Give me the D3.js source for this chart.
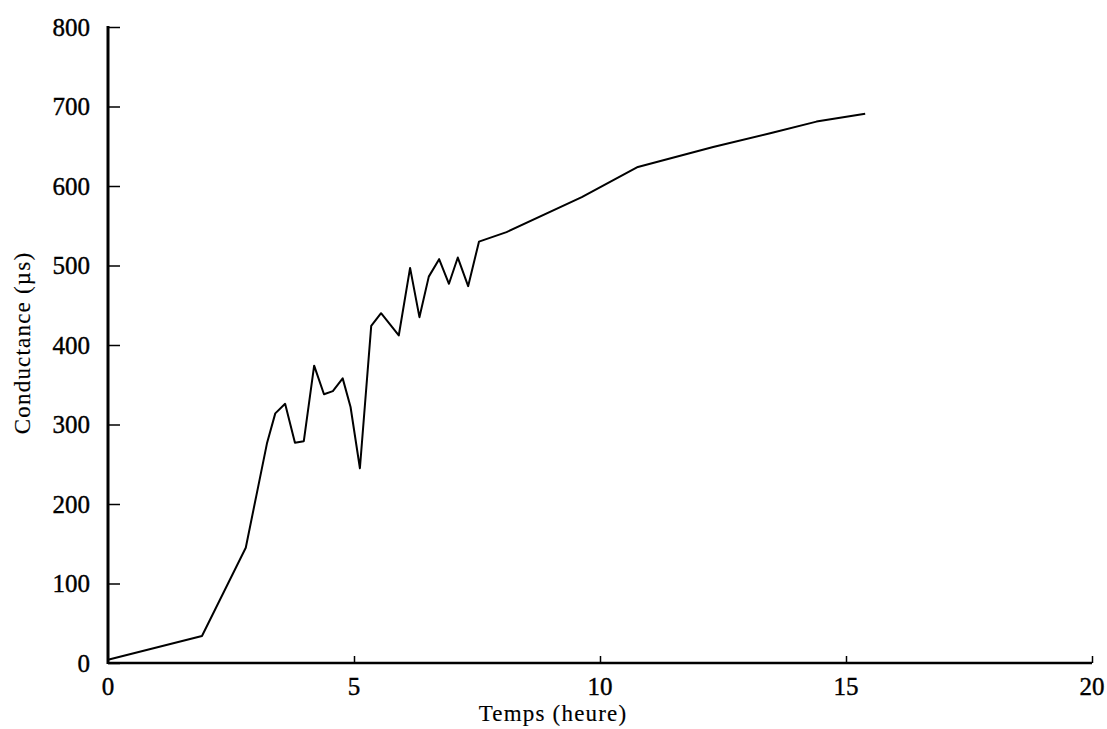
<!DOCTYPE html>
<html>
<head>
<meta charset="utf-8">
<script src="https://cdn.jsdelivr.net/npm/d3@7"></script>
<style>
  body { margin: 0; background: #fff; }
  svg { display: block; }
  text { font-family: "Liberation Serif", "DejaVu Serif", serif; fill: #000; }
  .tick-label { stroke: #000; stroke-width: 0.4px; }
  .title { stroke: #000; stroke-width: 0.15px; }
</style>
</head>
<body>
<svg id="chart" width="1107" height="729"></svg>
<script>
// values
var temps = [0, 1.91, 2.8, 3.23, 3.4, 3.6, 3.8, 3.98, 4.19, 4.39, 4.57, 4.77, 4.93, 5.12,
             5.35, 5.55, 5.91, 6.14, 6.33, 6.52, 6.73, 6.93, 7.11, 7.32, 7.54, 8.1,
             9.63, 10.77, 12.3, 13.5, 14.4, 15.39];
var conductance = [4, 34, 145, 276, 314, 326, 277, 279, 374, 338, 342, 358, 322, 245,
                   424, 440, 412, 497, 435, 486, 508, 477, 510, 474, 530, 542,
                   586, 624, 649, 667, 681, 691];
var xTicks = [0, 5, 10, 15, 20];
var yTicks = [0, 100, 200, 300, 400, 500, 600, 700, 800];

var svg = d3.select("#chart"),
    margins = {"left": 108, "right": 15, "top": 27, "bottom": 66},
    width = 1107,
    height = 729;

var x = d3.scaleLinear().domain([0, 20]).range([margins.left, width - margins.right]),
    y = d3.scaleLinear().domain([0, 800]).range([height - margins.bottom, margins.top]);

var data = temps.map((t, i) => [t, conductance[i]]);

// y axis, ticks pointing inward
var yAxis = svg.append("g").attr("transform", "translate(" + [margins.left, 0] + ")")
    .call(d3.axisRight(y).tickValues(yTicks).tickSize(12).tickFormat(""));
yAxis.select(".domain").remove();
yAxis.selectAll("line").attr("stroke", "#000").attr("stroke-width", 1.5);
svg.append("line")
    .attr("x1", margins.left).attr("x2", margins.left)
    .attr("y1", y(800) - 1).attr("y2", y(0) + 1)
    .attr("stroke", "#000").attr("stroke-width", 3);

svg.append("g").selectAll("text").data(yTicks).enter().append("text")
    .classed("tick-label", true)
    .attr("x", margins.left - 18).attr("y", d => y(d)).attr("dy", "0.35em")
    .attr("text-anchor", "end").style("font-size", "25px")
    .text(d => d);

// x axis, small ticks pointing up
var xAxis = svg.append("g").attr("transform", "translate(" + [0, y(0)] + ")")
    .call(d3.axisTop(x).tickValues(xTicks.slice(1)).tickSize(7).tickFormat(""));
xAxis.select(".domain").remove();
xAxis.selectAll("line").attr("stroke", "#000").attr("stroke-width", 1.5);
svg.append("line")
    .attr("x1", margins.left).attr("x2", x(20))
    .attr("y1", y(0)).attr("y2", y(0))
    .attr("stroke", "#000").attr("stroke-width", 2.5);

svg.append("g").selectAll("text").data(xTicks).enter().append("text")
    .classed("tick-label", true)
    .attr("x", d => x(d)).attr("y", y(0) + 23).attr("dy", "0.35em")
    .attr("text-anchor", "middle").style("font-size", "25px")
    .text(d => d);

// axis titles
svg.append("text").classed("title", true)
    .attr("x", 553).attr("y", 713).attr("dy", "0.35em")
    .attr("text-anchor", "middle").style("font-size", "23px").style("letter-spacing", "1.2px")
    .text("Temps (heure)");

svg.append("text").classed("title", true)
    .attr("transform", "translate(" + [22, 343] + ") rotate(-90)")
    .attr("dy", "0.35em").attr("text-anchor", "middle")
    .style("font-size", "23px").style("letter-spacing", "1.2px")
    .text("Conductance (\u00b5s)");

// the curve
svg.append("path").datum(data)
    .attr("fill", "none").attr("stroke", "#000").attr("stroke-width", 2)
    .attr("stroke-linejoin", "round")
    .attr("d", d3.line().x(d => x(d[0])).y(d => y(d[1])));
</script>
</body>
</html>
